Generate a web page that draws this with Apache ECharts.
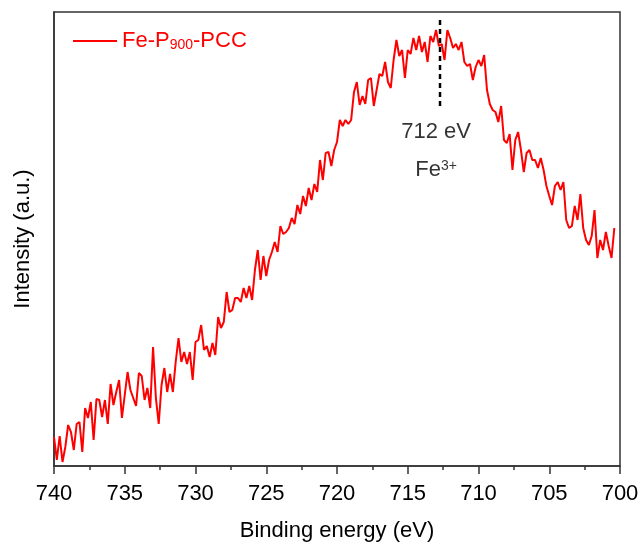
<!DOCTYPE html>
<html>
<head>
<meta charset="utf-8">
<script src="https://cdn.jsdelivr.net/npm/echarts@6/dist/echarts.min.js"></script>
<style>
  html, body { margin: 0; padding: 0; background: #fff; }
  #main { width: 644px; height: 550px; }
</style>
</head>
<body>
<div id="main"></div>
<script>
// XPS Fe 2p region, binding energy from 740 eV down in 0.2 eV steps
var startEnergy = 740;
var stepEnergy = 0.2;
var intensity = [
  29, 6, 30, 4, 19, 41, 34, 16, 42, 44, 14, 58, 48, 64, 26, 67, 66, 49, 66, 42,
  82, 61, 74, 86, 48, 71, 94, 76, 68, 60, 93, 90, 66, 78, 58, 119, 68, 42, 81, 98,
  74, 92, 74, 104, 128, 104, 114, 102, 114, 86, 124, 126, 141, 116, 120, 109, 123, 111, 149, 138,
  144, 174, 154, 156, 168, 168, 164, 178, 168, 180, 166, 196, 216, 186, 210, 190, 206, 214, 224, 214,
  240, 232, 234, 238, 248, 242, 261, 252, 270, 260, 278, 266, 282, 274, 306, 286, 313, 314, 300, 316,
  324, 346, 340, 346, 342, 346, 374, 384, 361, 370, 362, 386, 388, 360, 376, 392, 390, 404, 384, 378,
  406, 426, 410, 416, 388, 416, 412, 428, 416, 430, 414, 424, 404, 430, 424, 436, 420, 422, 406, 436,
  428, 418, 422, 416, 424, 404, 400, 402, 386, 399, 406, 400, 411, 376, 362, 356, 354, 344, 360, 326,
  323, 332, 296, 326, 334, 316, 294, 313, 316, 306, 306, 298, 308, 296, 280, 270, 261, 280, 284, 276,
  284, 246, 238, 240, 260, 246, 272, 238, 226, 221, 230, 256, 208, 226, 216, 234, 220, 208, 238
];
var xTicks = { min: 700, max: 740, interval: 5 };
var peakEnergy = 712.72;
var peakLine = [446, 359];
var peakText = ['712 eV', 'Fe{sup|3+}'];
var peakTextAt = [334, 296];
var seriesName = 'Fe-P900-PCC';

var spectrum = intensity.map(function (v, i) {
  return [+(startEnergy - i * stepEnergy).toFixed(1), v];
});

var chart = echarts.init(document.getElementById('main'));
var font = '"Liberation Sans", Arial, sans-serif';

var option = {
  backgroundColor: '#fff',
  animation: false,
  textStyle: { fontFamily: font },
  grid: {
    left: 54, right: 24, top: 12, bottom: 84,
    show: true, borderColor: '#333', borderWidth: 1.5
  },
  legend: {
    data: [seriesName],
    left: 73, top: 30, padding: 0,
    icon: 'rect',
    itemWidth: 44, itemHeight: 2,
    formatter: function () { return 'Fe-P{sub|900}-PCC'; },
    textStyle: {
      color: '#ff0000', fontSize: 22, fontFamily: font,
      rich: { sub: { fontSize: 14, color: '#ff0000', fontFamily: font, verticalAlign: 'bottom', padding: [9, 0, 0, 0] } }
    }
  },
  xAxis: {
    type: 'value',
    inverse: true,
    min: xTicks.min, max: xTicks.max, interval: xTicks.interval,
    name: 'Binding energy (eV)',
    nameLocation: 'middle', nameGap: 54,
    nameTextStyle: { fontSize: 22, color: '#000', fontFamily: font },
    axisLine: { lineStyle: { color: '#333', width: 1.5 } },
    axisTick: { show: true, length: 8, lineStyle: { color: '#333', width: 1.5 } },
    minorTick: { show: true, splitNumber: 2, length: 4, lineStyle: { color: '#333', width: 1.5 } },
    axisLabel: { fontSize: 22, color: '#000', margin: 17, fontFamily: font },
    splitLine: { show: false }
  },
  yAxis: {
    type: 'value',
    min: 0, max: 454,
    name: 'Intensity (a.u.)',
    nameLocation: 'middle', nameGap: 20,
    nameTextStyle: { fontSize: 22, color: '#000', fontFamily: font },
    axisLine: { show: true, lineStyle: { color: '#333', width: 1.5 } },
    axisTick: { show: false },
    axisLabel: { show: false },
    splitLine: { show: false }
  },
  series: [
    {
      name: seriesName,
      type: 'line',
      data: spectrum,
      symbol: 'none',
      lineStyle: { color: '#ff0000', width: 2 },
      itemStyle: { color: '#ff0000' },
      z: 3
    },
    {
      name: 'peak',
      type: 'line',
      data: [[peakEnergy, peakLine[0]], [peakEnergy, peakLine[1]]],
      symbol: 'none',
      lineStyle: { color: '#000', width: 2.5, type: [5, 4] },
      z: 4
    },
    {
      name: 'labels',
      type: 'scatter',
      symbolSize: 1,
      itemStyle: { color: 'rgba(0,0,0,0)' },
      data: [[713.0, peakTextAt[0]], [713.0, peakTextAt[1]]],
      label: {
        show: true,
        position: 'inside',
        color: '#000',
        fontSize: 22,
        fontFamily: font,
        formatter: function (p) { return peakText[p.dataIndex]; },
        rich: { sup: { fontSize: 14, color: '#000', fontFamily: font, verticalAlign: 'top', padding: [0, 0, 8, 0] } }
      },
      z: 5
    }
  ]
};

chart.setOption(option);
</script>
</body>
</html>
